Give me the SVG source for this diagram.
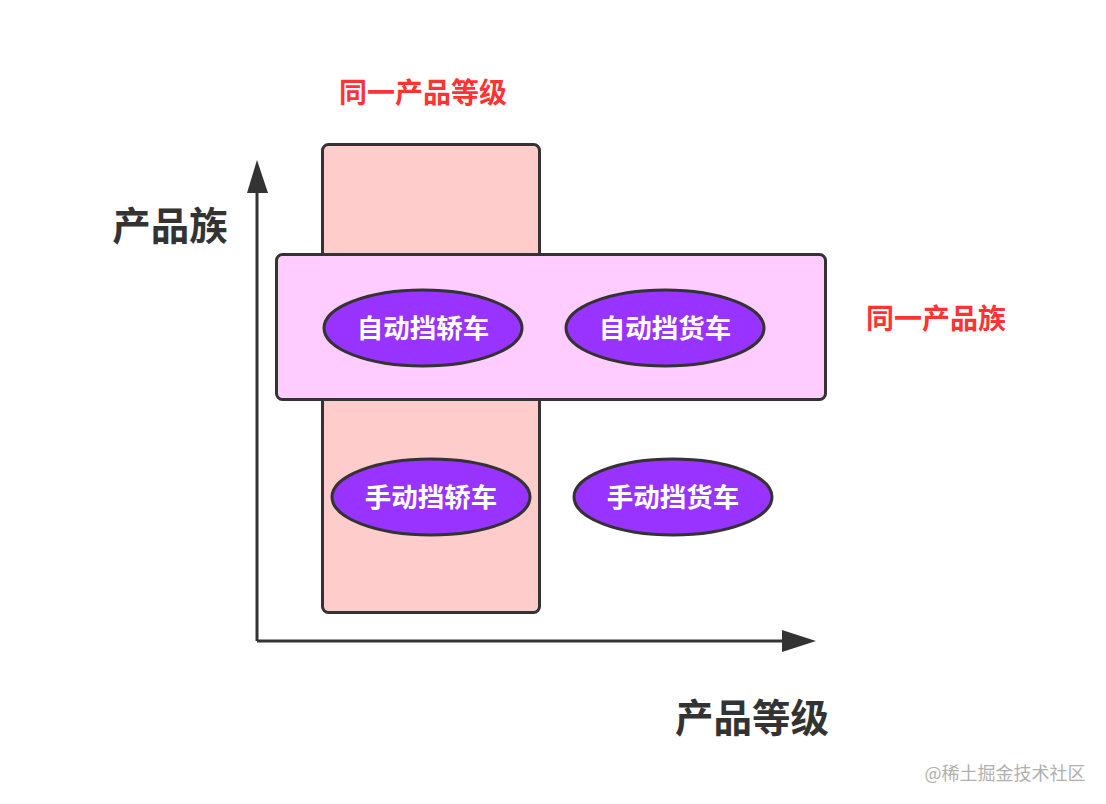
<svg xmlns="http://www.w3.org/2000/svg" width="1106" height="804" viewBox="0 0 1106 804">
<style>
.lbl{font-family:"Liberation Sans","Noto Sans CJK SC",sans-serif;font-weight:bold;text-anchor:middle;dominant-baseline:central}
.red{fill:#ff3333;font-size:28px}
.axis{fill:#333333;font-size:38.5px}
.el{fill:#9933ff;stroke:#333333;stroke-width:3}
.et{fill:#ffffff;font-size:26.5px}
.box{stroke:#333333;stroke-width:3}
</style>
<rect width="1106" height="804" fill="#ffffff"/>
<g id="connectors" stroke="#333333" stroke-width="3" fill="#333333">
<line x1="257" y1="641" x2="257" y2="190"/>
<polygon points="257,160 247,193 268,193" stroke="none"/>
<line x1="257" y1="641" x2="785" y2="641"/>
<polygon points="816,641 782,630 782,652" stroke="none"/>
</g>
<g id="grade-box"><rect class="box" x="322.5" y="144.5" width="217" height="468" rx="6" fill="#ffcccc"/></g>
<g id="family-box"><rect class="box" x="276.5" y="254.5" width="549" height="145" rx="6" fill="#ffccff"/></g>
<g id="auto-sedan"><ellipse class="el" cx="423" cy="328" rx="99" ry="38"/><text class="lbl et" x="423" y="329">自动挡轿车</text></g>
<g id="auto-truck"><ellipse class="el" cx="665" cy="328" rx="99" ry="38"/><text class="lbl et" x="665" y="329">自动挡货车</text></g>
<g id="manual-sedan"><ellipse class="el" cx="431" cy="497" rx="99" ry="38"/><text class="lbl et" x="431" y="498">手动挡轿车</text></g>
<g id="manual-truck"><ellipse class="el" cx="673" cy="497" rx="99" ry="38"/><text class="lbl et" x="673" y="498">手动挡货车</text></g>
<g id="labels">
<text class="lbl red" x="423" y="93">同一产品等级</text>
<text class="lbl red" x="936" y="319">同一产品族</text>
<text class="lbl axis" x="170" y="226">产品族</text>
<text class="lbl axis" x="752" y="718">产品等级</text>
<text x="1005" y="772" font-family="'Noto Sans CJK SC',sans-serif" font-size="18" fill="#b0b0b0" text-anchor="middle" dominant-baseline="central">@稀土掘金技术社区</text>
</g>
</svg>
